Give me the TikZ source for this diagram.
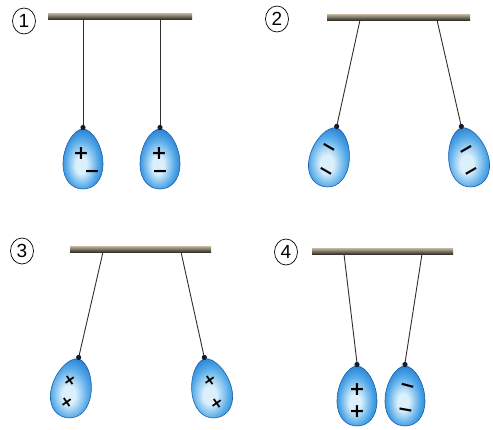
\documentclass[tikz,border=0pt]{standalone}
\usepackage{fontspec}
\usetikzlibrary{shapes.geometric}
\setmainfont{DejaVu Sans}
\newfontfamily\numfont{Liberation Sans}
\definecolor{bedge}{RGB}{30,118,205}
\definecolor{bmid}{RGB}{85,170,232}
\definecolor{blight}{RGB}{220,240,252}
\definecolor{bline}{RGB}{25,95,175}
\definecolor{barlight}{RGB}{195,185,160}
\definecolor{bardark}{RGB}{55,52,44}
\definecolor{threadcol}{RGB}{50,47,42}
\definecolor{knotcol}{RGB}{20,28,45}
\pgfdeclareradialshading{balloonshade}{\pgfpoint{-3bp}{-6bp}}{%
  color(0bp)=(blight); color(7bp)=(blight); color(20bp)=(bmid);
  color(30bp)=(bedge); color(50bp)=(bedge)}
% balloon hanging from its knot: knot x, knot y, tilt
\newcommand\drawballoon[3]{%
  \begin{scope}[shift={(#1,#2)}, rotate=#3]
    \shadedraw[shading=balloonshade, draw=bline, line width=0.6pt]
      (0,3) .. controls (9,3) and (20,20) .. (20,38)
      .. controls (20,54) and (11,63) .. (0,63)
      .. controls (-11,63) and (-20,54) .. (-20,38)
      .. controls (-20,20) and (-9,3) .. (0,3) -- cycle;
    \fill[knotcol] (0,1.5) circle (2.6);
  \end{scope}}
\begin{document}
\begin{tikzpicture}[x=1pt,y=-1pt,
  bar/.style={top color=barlight, bottom color=bardark},
  thread/.style={draw=threadcol, line width=0.9pt},
  chg/.style={font=\fontsize{19}{19}\selectfont\bfseries, text=black, inner sep=0pt},
  cross/.style={chg, font=\fontsize{16}{16}\selectfont\bfseries, rotate=35},
  num/.style={draw, ellipse, line width=0.7pt, minimum width=23pt, minimum height=26pt,
    inner sep=0pt, font=\numfont\fontsize{19}{19}\selectfont}]
\useasboundingbox (0,0) rectangle (493,429);
\fill[white] (0,0) rectangle (493,429);

% panel numbers
\node[num] (n1) at (24,21) {1};
\node[num] (n2) at (277,19) {2};
\node[num] (n3) at (22,251) {3};
\node[num] (n4) at (286,252) {4};

% supports
\shade[bar] (48,13) rectangle (192,19);
\shade[bar] (327,14) rectangle (470,20);
\shade[bar] (70,246) rectangle (211,252);
\shade[bar] (312,248) rectangle (453,254);

% thread ends on the supports
\coordinate (s1a) at (83,19);   \coordinate (s1b) at (160,19);
\coordinate (s2a) at (360,20);  \coordinate (s2b) at (437,20);
\coordinate (s3a) at (103,252); \coordinate (s3b) at (181,252);
\coordinate (s4a) at (344,254); \coordinate (s4b) at (422,254);
% knots
\coordinate (k1a) at (83,126);  \coordinate (k1b) at (160,126);
\coordinate (k2a) at (337,125); \coordinate (k2b) at (461,125);
\coordinate (k3a) at (79,356);  \coordinate (k3b) at (204,356);
\coordinate (k4a) at (357,363); \coordinate (k4b) at (405,363);

\draw[thread] (s1a) -- (k1a);
\draw[thread] (s1b) -- (k1b);
\draw[thread] (s2a) -- (k2a);
\draw[thread] (s2b) -- (k2b);
\draw[thread] (s3a) -- (k3a);
\draw[thread] (s3b) -- (k3b);
\draw[thread] (s4a) -- (k4a);
\draw[thread] (s4b) -- (k4b);

% balloons
\drawballoon{83}{126}{0}
\drawballoon{160}{126}{0}
\drawballoon{337}{125}{-12.4}
\drawballoon{461}{125}{12.4}
\drawballoon{79}{356}{-12.5}
\drawballoon{204}{356}{12.5}
\drawballoon{357}{363}{0}
\drawballoon{405}{363}{0}

% charges
\node[chg] (c1a) at (81,154) {+};
\node[chg] (c1b) at (92,174) {−};
\node[chg] (c1c) at (159,154) {+};
\node[chg] (c1d) at (160,174) {−};

\node[chg, rotate=-30] (c2a) at (328,149) {−};
\node[chg, rotate=-30] (c2b) at (325,173) {−};
\node[chg, rotate=30] (c2c) at (468,151) {−};
\node[chg, rotate=30] (c2d) at (473,173) {−};

\node[cross] (c3a) at (70,381) {+};
\node[cross] (c3b) at (67,403) {+};
\node[cross] (c3c) at (210,381) {+};
\node[cross] (c3d) at (217,404) {+};

\node[chg] (c4a) at (357,390) {+};
\node[chg] (c4b) at (357,412) {+};
\node[chg, rotate=-15] (c4c) at (407,388) {−};
\node[chg, rotate=-10] (c4d) at (405,412) {−};
\end{tikzpicture}
\end{document}
